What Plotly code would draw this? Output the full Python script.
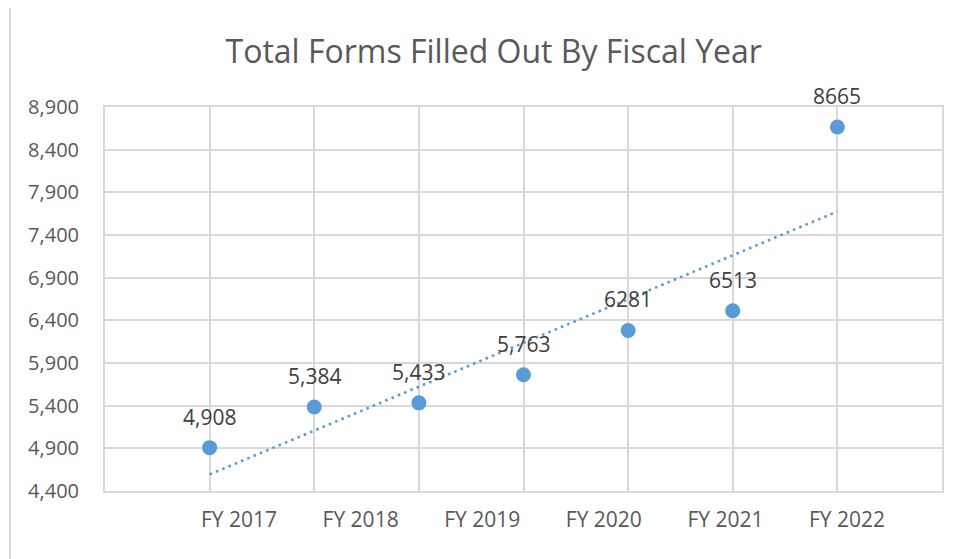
import numpy as np
import plotly.graph_objects as go

# ---- data ----
fy_labels = ["FY 2017", "FY 2018", "FY 2019", "FY 2020", "FY 2021", "FY 2022"]
forms_values = [4908, 5384, 5433, 5763, 6281, 6513, 8665]
value_labels = ["4,908", "5,384", "5,433", "5,763", "6281", "6513", "8665"]
y_ticks = [4400, 4900, 5400, 5900, 6400, 6900, 7400, 7900, 8400, 8900]

positions = list(range(1, len(forms_values) + 1))

BLUE = "#5B9BD5"
GRID = "#D9D9D9"
TXT = "#595959"
FONT = "Open Sans"

# linear trend line (least squares) over the points
slope, intercept = np.polyfit(positions, forms_values, 1)
trend_x = [positions[0], positions[-1]]
trend_y = [slope * x + intercept for x in trend_x]

fig = go.Figure()

fig.add_trace(go.Scatter(
    x=trend_x, y=trend_y, mode="lines",
    line=dict(color=BLUE, width=2.6, dash="2.6px,4.2px"),
    hoverinfo="skip", showlegend=False,
))

fig.add_trace(go.Scatter(
    x=positions, y=forms_values, mode="markers",
    marker=dict(color=BLUE, size=15),
    showlegend=False,
))

# invisible trace carrying the category labels on the secondary x axis
fig.add_trace(go.Scatter(
    x=fy_labels, y=[None] * len(fy_labels), xaxis="x2", mode="markers",
    showlegend=False, hoverinfo="skip",
))

for x, y, t in zip(positions, forms_values, value_labels):
    fig.add_annotation(
        x=x, y=y, text=t, showarrow=False, yshift=31,
        font=dict(family=FONT, size=21, color="#404040"),
    )

fig.update_layout(
    width=958, height=559,
    margin=dict(l=97, r=24, t=99, b=76),
    paper_bgcolor="white", plot_bgcolor="white",
    title=dict(
        text="Total Forms Filled Out By Fiscal Year",
        x=0.507, xanchor="center", xref="container",
        y=0.921, yanchor="middle", yref="container",
        font=dict(family=FONT, size=32, color=TXT),
    ),
    xaxis=dict(
        range=[0, len(forms_values) + 1], dtick=1, tick0=0,
        showticklabels=False, showgrid=True, gridcolor=GRID, gridwidth=2,
        zeroline=False, showline=True, linecolor=GRID, linewidth=2, mirror=True,
        ticks="",
    ),
    xaxis2=dict(
        overlaying="x", anchor="y", side="bottom", type="category",
        range=[-1.102, 5.781], showgrid=False, zeroline=False, showline=False,
        ticks="", ticklabelstandoff=14,
        tickfont=dict(family=FONT, size=21, color=TXT),
    ),
    yaxis=dict(
        range=[4400, 8900], tickvals=y_ticks, tickformat=",",
        showgrid=True, gridcolor=GRID, gridwidth=2,
        zeroline=False, showline=True, linecolor=GRID, linewidth=2, mirror=True,
        ticks="", ticklabelstandoff=20,
        tickfont=dict(family=FONT, size=20, color=TXT),
    ),
    shapes=[dict(
        type="rect", xref="paper", yref="paper",
        x0=(10 - 105) / 837, x1=1.1, y0=-0.3, y1=1 + (107 - 7) / 384,
        line=dict(color=GRID, width=2), fillcolor="rgba(0,0,0,0)", layer="below",
    )],
)

fig.write_html("out.html")
